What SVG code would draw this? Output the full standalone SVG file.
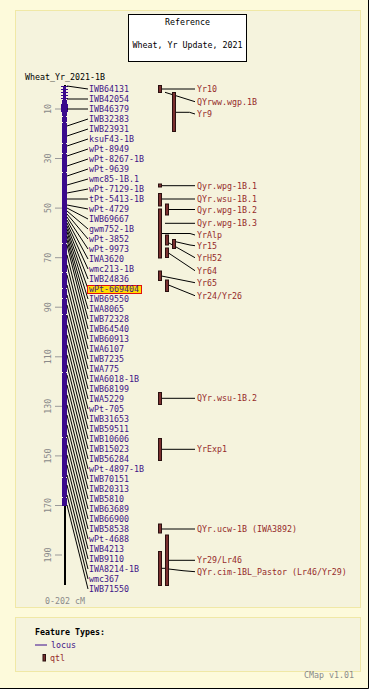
<svg xmlns="http://www.w3.org/2000/svg" width="369" height="689" viewBox="0 0 369 689">
<style>
text{font-family:"DejaVu Sans Mono","Liberation Mono",monospace;font-size:8.3px}
.blk{fill:#000}
.loc{fill:#3f1488}
.qt{fill:#952b2b}
.gry{fill:#8a8a8a}
.tick{stroke:#999;stroke-width:1}
.ln{stroke:#000;stroke-width:1;fill:none}
.qbar{fill:#7a2f2f;stroke:#2a1010;stroke-width:1}
</style>
<rect x="0" y="0" width="369" height="689" fill="#fdfadb"/>
<path d="M368.5 0V688.5H0" stroke="#000" fill="none"/>
<rect x="15.5" y="10.5" width="345" height="597" fill="#f5f3dd" stroke="#f0e8a6"/>
<rect x="15.5" y="617.5" width="345" height="54" fill="#f5f3dd" stroke="#f0e8a6"/>
<g id="reference">
<rect x="128.5" y="14.5" width="118" height="47" fill="#fff" stroke="#000"/>
<text class="blk" x="187.5" y="25.3" text-anchor="middle">Reference</text>
<text class="blk" x="187.5" y="48" text-anchor="middle">Wheat, Yr Update, 2021</text>
</g>
<text class="blk" x="25" y="80.3">Wheat_Yr_2021-1B</text>
<g id="axis">
<g class="tick">
<path d="M55 109H62M55 158.5H62M55 208.1H62M55 257.7H62M55 307.2H62M55 356.8H62M55 406.3H62M55 455.9H62M55 505.5H62M55 555H62"/>
</g>
<g class="gry" text-anchor="middle">
<text x="51" y="109" transform="rotate(-90 51 109)">10</text>
<text x="51" y="158.5" transform="rotate(-90 51 158.5)">30</text>
<text x="51" y="208.1" transform="rotate(-90 51 208.1)">50</text>
<text x="51" y="257.7" transform="rotate(-90 51 257.7)">70</text>
<text x="51" y="307.2" transform="rotate(-90 51 307.2)">90</text>
<text x="51" y="356.8" transform="rotate(-90 51 356.8)">110</text>
<text x="51" y="406.3" transform="rotate(-90 51 406.3)">130</text>
<text x="51" y="455.9" transform="rotate(-90 51 455.9)">150</text>
<text x="51" y="505.5" transform="rotate(-90 51 505.5)">170</text>
<text x="51" y="555" transform="rotate(-90 51 555)">190</text>
</g>
<text class="gry" x="45" y="604">0-202 cM</text>
</g>
<g id="chromosome">
<rect x="64" y="85" width="2" height="500" fill="#000"/>
<rect x="62" y="100" width="5" height="406" fill="#3a0a8c"/>
<path d="M61 86.5H68M61 89.5H68M61 92.5H68M61 95.5H68M61 98.5H68" stroke="#3a0a8c"/>
<rect x="63" y="86" width="3" height="14" fill="#3a0a8c"/>
<rect x="61" y="104" width="7" height="8" fill="#3a0a8c"/>
<path d="M62 116.5H63M66 116.5H67M62 122.5H63M66 122.5H67M62 143.5H63M66 143.5H67M62 153.5H63M66 153.5H67M62 172.5H63M66 172.5H67M62 243.5H63M66 243.5H67M62 272.5H63M66 272.5H67M62 288.5H63M66 288.5H67M62 298.5H63M66 298.5H67M62 314.5H63M66 314.5H67M62 372.5H63M66 372.5H67M62 437.5H63M66 437.5H67M62 477.5H63M66 477.5H67M62 497.5H63M66 497.5H67" stroke="#f5f3dd"/>
</g>
<g id="connectors" class="ln">
<path d="M67 86L88 89M67 99H88M67 109H88M67 126L88 119M67 136L88 129M67 146L88 139M67 156L88 149M67 166L88 159M67 176L88 169M67 185L88 179M67 193L88 189M67 199H88M67 205L88 209M67 208L88 219M67 211L88 229M67 214L88 239M67 217L88 249M67 220L88 259M67 223L88 269M67 226L88 279M67 229L88 289M67 232L88 299M67 236L88 309M67 240L88 319M67 245L88 329M67 255L88 339M67 265L88 349M67 275L88 359M67 285L88 369M67 295L88 379M67 305L88 389M67 315L88 399M67 325L88 409M67 335L88 419M67 345L88 429M67 355L88 439M67 365L88 449M67 375L88 459M67 385L88 469M67 395L88 479M67 405L88 489M67 415L88 499M67 425L88 509M67 435L88 519M67 445L88 529M67 455L88 539M67 465L88 549M67 475L88 559M67 485L88 569M67 495L88 579M67 505L88 589"/>
<path d="M161.5 89H195M165 92.3L195 101.7M175.5 112.3H189.5L195 114M161.5 185.7H195M161.5 199H195M168.5 209.5H195M165 223.3H195M161.5 233.5H190L195 235M175.5 241.7L190 245L195 245.7M168.5 242.7L195 257.7M168.5 253L195 270.7M161.5 276L195 282.7M168.5 285L195 295.7M161.5 398.3H195M161.5 449.3H195M161.5 529H195M168.5 560.3H195M161.5 568.3H165M168.5 569L173 569.5L183 570.7L195 571.7"/>
</g>
<g id="loci" class="loc">
<rect x="87.5" y="285.5" width="54" height="8" fill="#ffdd00" stroke="#e01010"/>
<text x="89" y="92">IWB64131</text>
<text x="89" y="102">IWB42054</text>
<text x="89" y="112">IWB46379</text>
<text x="89" y="122">IWB32383</text>
<text x="89" y="132">IWB23931</text>
<text x="89" y="142">ksuF43-1B</text>
<text x="89" y="152">wPt-8949</text>
<text x="89" y="162">wPt-8267-1B</text>
<text x="89" y="172">wPt-9639</text>
<text x="89" y="182">wmc85-1B.1</text>
<text x="89" y="192">wPt-7129-1B</text>
<text x="89" y="202">tPt-5413-1B</text>
<text x="89" y="212">wPt-4729</text>
<text x="89" y="222">IWB69667</text>
<text x="89" y="232">gwm752-1B</text>
<text x="89" y="242">wPt-3852</text>
<text x="89" y="252">wPt-9973</text>
<text x="89" y="262">IWA3620</text>
<text x="89" y="272">wmc213-1B</text>
<text x="89" y="282">IWB24836</text>
<text x="89" y="292">wPt-669404</text>
<text x="89" y="302">IWB69550</text>
<text x="89" y="312">IWA8065</text>
<text x="89" y="322">IWB72328</text>
<text x="89" y="332">IWB64540</text>
<text x="89" y="342">IWB60913</text>
<text x="89" y="352">IWA6107</text>
<text x="89" y="362">IWB7235</text>
<text x="89" y="372">IWA775</text>
<text x="89" y="382">IWA6018-1B</text>
<text x="89" y="392">IWB68199</text>
<text x="89" y="402">IWA5229</text>
<text x="89" y="412">wPt-705</text>
<text x="89" y="422">IWB31653</text>
<text x="89" y="432">IWB59511</text>
<text x="89" y="442">IWB10606</text>
<text x="89" y="452">IWB15023</text>
<text x="89" y="462">IWB56284</text>
<text x="89" y="472">wPt-4897-1B</text>
<text x="89" y="482">IWB70151</text>
<text x="89" y="492">IWB20313</text>
<text x="89" y="502">IWB5810</text>
<text x="89" y="512">IWB63689</text>
<text x="89" y="522">IWB66900</text>
<text x="89" y="532">IWB58538</text>
<text x="89" y="542">wPt-4688</text>
<text x="89" y="552">IWB4213</text>
<text x="89" y="562">IWB9110</text>
<text x="89" y="572">IWA8214-1B</text>
<text x="89" y="582">wmc367</text>
<text x="89" y="592">IWB71550</text>
</g>
<g id="qtls">
<rect class="qbar" x="158.5" y="85.5" width="3" height="7"/>
<rect class="qbar" x="172.5" y="92.5" width="3" height="39"/>
<rect class="qbar" x="158.5" y="184" width="3" height="3"/>
<rect class="qbar" x="158.5" y="193.5" width="3" height="12.5"/>
<rect class="qbar" x="165.5" y="204" width="3" height="11"/>
<rect class="qbar" x="158.5" y="209" width="3" height="49"/>
<rect class="qbar" x="165.5" y="235" width="3" height="10"/>
<rect class="qbar" x="172.5" y="239.5" width="3" height="9"/>
<rect class="qbar" x="165.5" y="248" width="3" height="9.5"/>
<rect class="qbar" x="158.5" y="271" width="3" height="9.5"/>
<rect class="qbar" x="165.5" y="280" width="3" height="11.5"/>
<rect class="qbar" x="158.5" y="392.5" width="3" height="12"/>
<rect class="qbar" x="158.5" y="438.5" width="3" height="22"/>
<rect class="qbar" x="158.5" y="524" width="3" height="9"/>
<rect class="qbar" x="165.5" y="535" width="3" height="50.5"/>
<rect class="qbar" x="158.5" y="551.5" width="3" height="34"/>
<g class="qt">
<text x="197" y="92">Yr10</text>
<text x="197" y="104.7">QYrww.wgp.1B</text>
<text x="197" y="117">Yr9</text>
<text x="197" y="188.7">Qyr.wpg-1B.1</text>
<text x="197" y="202">QYr.wsu-1B.1</text>
<text x="197" y="212.5">Qyr.wpg-1B.2</text>
<text x="197" y="226.3">Qyr.wpg-1B.3</text>
<text x="197" y="238">YrAlp</text>
<text x="197" y="248.7">Yr15</text>
<text x="197" y="260.7">YrH52</text>
<text x="197" y="273.7">Yr64</text>
<text x="197" y="285.7">Yr65</text>
<text x="197" y="298.7">Yr24/Yr26</text>
<text x="197" y="401.3">QYr.wsu-1B.2</text>
<text x="197" y="452.3">YrExp1</text>
<text x="197" y="532">QYr.ucw-1B (IWA3892)</text>
<text x="197" y="563.3">Yr29/Lr46</text>
<text x="197" y="574.7">QYr.cim-1BL_Pastor (Lr46/Yr29)</text>
</g>
</g>
<g id="legend">
<text class="blk" x="35" y="634.7" font-weight="bold">Feature Types:</text>
<path d="M35 645H47" stroke="#3a0a8c"/>
<text class="loc" x="51" y="648">locus</text>
<rect class="qbar" x="43" y="654.5" width="2.5" height="6.5"/>
<text class="qt" x="50" y="661">qtl</text>
<text class="gry" x="304" y="678.3">CMap v1.01</text>
</g>
</svg>
